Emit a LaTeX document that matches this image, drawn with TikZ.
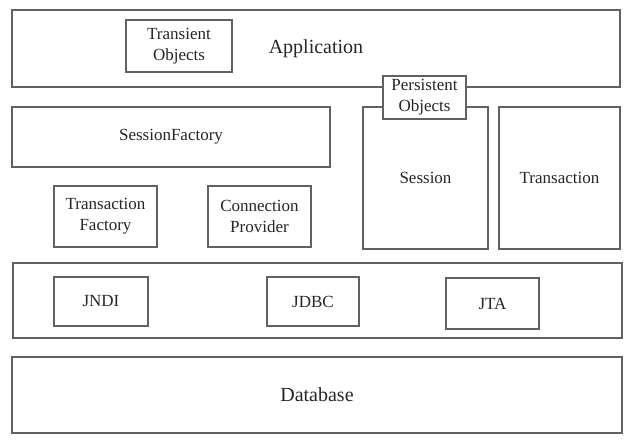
\documentclass[tikz,border=0pt]{standalone}
\usepackage{fontspec}
\setmainfont{Liberation Serif}
\begin{document}
\begin{tikzpicture}[x=0.75pt,y=-0.75pt,
  box/.style={draw=black!62, line width=1.3pt, fill=white, inner sep=0pt, align=center,
    text=black!85, font=\fontsize{12.75}{15.5}\selectfont},
  bigbox/.style={box, font=\fontsize{15}{18}\selectfont},
  sz/.style 2 args={minimum width=#1*0.75pt, minimum height=#2*0.75pt}]
\useasboundingbox (0,0) rectangle (625,440);
% Application layer
\node[bigbox, sz={608}{77}] (app) at (316,48.5) {Application};
\node[box, sz={106}{52}] (trans) at (179,46) {Transient\\Objects};
% Session layer
\node[box, sz={318}{60}] (sf) at (171,137) {SessionFactory};
\node[box, sz={125}{142}] (session) at (425.5,178) {Session};
\node[box, sz={121}{142}] (tx) at (559.5,178) {Transaction};
\node[box, sz={103}{61}] (tf) at (105.5,216.5) {Transaction\\Factory};
\node[box, sz={103}{61}] (cp) at (259.5,216.5) {Connection\\Provider};
\node[box, sz={83}{43}] (persist) at (424.5,97.5) {Persistent\\Objects};
% Java API layer
\node[box, sz={609}{75}] (mid) at (317.5,300.5) {};
\node[box, sz={94}{49}] (jndi) at (101,301.5) {JNDI};
\node[box, sz={92}{49}] (jdbc) at (313,301.5) {JDBC};
\node[box, sz={93}{51}] (jta) at (492.5,303.5) {JTA};
% Database
\node[bigbox, sz={610}{76}] (db) at (317,395) {Database};
\end{tikzpicture}
\end{document}
